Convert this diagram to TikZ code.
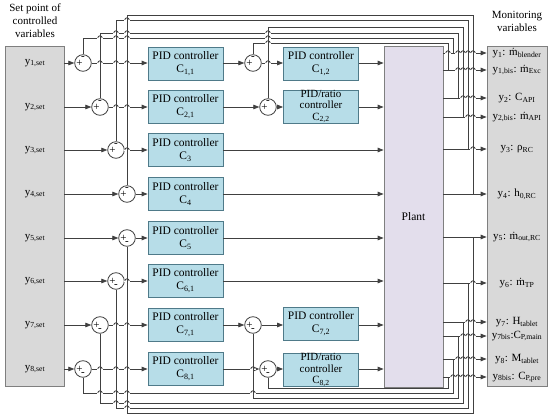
\documentclass[tikz,border=0pt]{standalone}
\usepackage{fontspec}
\setmainfont{Liberation Serif}
\usetikzlibrary{arrows.meta}
\definecolor{pidBlue}{HTML}{B7DDE8}
\definecolor{pidEdge}{HTML}{4F7A89}
\definecolor{plantLilac}{HTML}{E3DEEC}
\definecolor{boxGray}{HTML}{D9D9D9}
\definecolor{edgeGray}{HTML}{7F7F7F}
\definecolor{wireGray}{HTML}{404040}

\begin{document}
\begin{tikzpicture}[x=1pt,y=-1pt,>={Triangle[length=6pt,width=4.6pt]},
  wire/.style={draw=wireGray,line width=0.8pt},
  pidbox/.style={draw=pidEdge,fill=pidBlue,line width=0.8pt,minimum width=75pt,minimum height=33pt,inner sep=0pt,align=center,font=\fontsize{11.5}{13}\selectfont},
  ratiobox/.style={pidbox,font=\fontsize{11}{11.5}\selectfont},
  sumnode/.style={circle,draw=wireGray,fill=white,line width=0.8pt,minimum size=16.6pt,inner sep=0pt},
  graybox/.style={draw=edgeGray,fill=boxGray,line width=0.8pt,inner sep=0pt},
  sign/.style={font=\fontsize{11}{11}\selectfont,inner sep=0pt},
  lbl/.style={font=\fontsize{11}{13}\selectfont,inner sep=0pt}]
\useasboundingbox (0,0) rectangle (550,418);

% side boxes and plant
\node[graybox,minimum width=59pt,minimum height=340pt] (sp) at (34.5,216) {};
\node[graybox,minimum width=60pt,minimum height=340pt] (mon) at (517,216) {};
\node[draw=edgeGray,fill=plantLilac,line width=0.8pt,minimum width=59pt,minimum height=341pt,inner sep=0pt,font=\fontsize{11.5}{13}\selectfont] (plant) at (413.5,216.5) {Plant};
\node[lbl,align=center] (sptitle) at (35,21) {Set point of\\controlled\\variables};
\node[lbl,align=center] (montitle) at (517,21) {Monitoring\\variables};

\foreach \k/\yy in {1/63,2/107,3/150,4/194,5/238,6/281,7/325,8/369}
  \node[lbl] (set\k) at (35,\yy) {y\textsubscript{\k,set}};

% controllers
\foreach \n/\yy/\ix in {c11/63.5/{1,1},c21/106.5/{2,1},c3/150/3,c4/194/4,c5/238/5,c6/281/{6,1},c71/325/{7,1},c81/369/{8,1}}
  \node[pidbox] (\n) at (185.5,\yy) {PID controller\\C\textsubscript{\ix}};
\node[pidbox] (c12) at (321,63.5) {PID controller\\C\textsubscript{1,2}};
\node[ratiobox] (c22) at (321,106.5) {PID/ratio\\controller\\C\textsubscript{2,2}};
\node[pidbox] (c72) at (321,323.5) {PID controller\\C\textsubscript{7,2}};
\node[ratiobox] (c82) at (321,370) {PID/ratio\\controller\\C\textsubscript{8,2}};

% summing junctions
\foreach \n/\xx/\yy/\sg in {s11/83/63/1,s21/100/107/1,s3/116/150/1,s4/127/194/1,s5/127/238/-1,s6/116/281/-1,s71/100/325/-1,s81/83/369/-1,s12/253/63/1,s22/268/107/1,s72/253/325/-1,s82/268/369/-1}{
  \node[sumnode] (\n) at (\xx,\yy) {};
  \node[sign] at ([xshift=-3.6pt]\n.center) {+};
  \node[sign] at ([yshift=\sg*5pt]\n.center) {-};
}

% forward path
\foreach \sn in {s11,s21,s3,s4,s5,s6,s71,s81}
  \draw[wire,->] (sp.east |- \sn) -- (\sn.west);
\foreach \sn/\cn in {s11/c11,s21/c21,s3/c3,s4/c4,s5/c5,s6/c6,s71/c71,s81/c81,s12/c12,s22/c22,s72/c72,s82/c82}
  \draw[wire,->] (\sn.east) -- (\cn.west |- \sn);
\foreach \cn/\sn in {c11/s12,c21/s22,c71/s72,c81/s82}
  \draw[wire,->] (\cn.east |- \sn) -- (\sn.west);
\foreach \cn/\sn in {c12/s12,c22/s22,c3/s3,c4/s4,c5/s5,c6/s6,c72/s72,c82/s82}
  \draw[wire,->] (\cn.east |- \sn) -- (plant.west |- \sn);

% outputs and feedback
\foreach \tp/\xx/\yy/\sn/\lv/\an in {t1/453/53/s11/38/north,t1b/448/70/s12/43/north,t2/458/98/s21/33/north,t2b/463/117/s22/27/north,t3/468/149/s3/20/north,t4/473/194/s4/15/north,t5/473/237/s5/413/south,t6/468/283/s6/408/south,t7/463/322/s71/403/south,t7b/458/336/s72/398/south,t8/453/359/s81/393/south,t8b/448/377/s82/388/south}{
  \coordinate (\tp) at (\xx,\yy);
  \draw[wire,->] (plant.east |- \tp) -- (mon.west |- \tp);
  \draw[wire] (\tp) |- (\sn.\an |- 0,\lv) -- (\sn.\an);
}

\node[lbl] (m1) at (517,53) {y\textsubscript{1}: ṁ\textsubscript{blender}};
\node[lbl] (m1b) at (517,70) {y\textsubscript{1,bis}: ṁ\textsubscript{Exc}};
\node[lbl] (m2) at (517,98) {y\textsubscript{2}: C\textsubscript{API}};
\node[lbl] (m2b) at (517,117) {y\textsubscript{2,bis}: ṁ\textsubscript{API}};
\node[lbl] (m3) at (517,149) {y\textsubscript{3}: ρ\textsubscript{RC}};
\node[lbl] (m4) at (517,194) {y\textsubscript{4}: h\textsubscript{0,RC}};
\node[lbl] (m5) at (517,237) {y\textsubscript{5}: ṁ\textsubscript{out,RC}};
\node[lbl] (m6) at (517,283) {y\textsubscript{6}: ṁ\textsubscript{TP}};
\node[lbl] (m7) at (517,322) {y\textsubscript{7}: H\textsubscript{tablet}};
\node[lbl] (m7b) at (517,336) {y\textsubscript{7bis}:C\textsubscript{P,main}};
\node[lbl] (m8) at (517,359) {y\textsubscript{8}: M\textsubscript{tablet}};
\node[lbl] (m8b) at (517,377) {y\textsubscript{8bis}: C\textsubscript{P,pre}};

% line jumps
\def\hops{100/63,116/63,127/63,268/63,116/107,127/107,127/150,127/281,116/325,127/325,100/369,116/369,127/369,253/369,
268/43,268/38,127/38,116/38,100/38,268/33,127/33,116/33,127/20,
253/393,127/393,116/393,100/393,127/403,116/403,127/408,
448/53,458/53,463/53,468/53,473/53,458/70,463/70,468/70,473/70,463/98,468/98,473/98,468/117,473/117,473/149,
473/283,468/322,473/322,463/336,468/336,473/336,458/359,463/359,468/359,473/359,453/377,458/377,463/377,468/377,473/377}
\foreach \x/\y in \hops {\fill[white] (\x-2.6,\y-1.3) rectangle (\x+2.6,\y+1.3);}
\foreach \x/\y in \hops {
  \draw[wire] (\x,\y-1.8) -- (\x,\y+1.8);
  \draw[wire] (\x-2.2,\y) arc[start angle=180,end angle=0,radius=2.2pt];
}
\end{tikzpicture}
\end{document}
